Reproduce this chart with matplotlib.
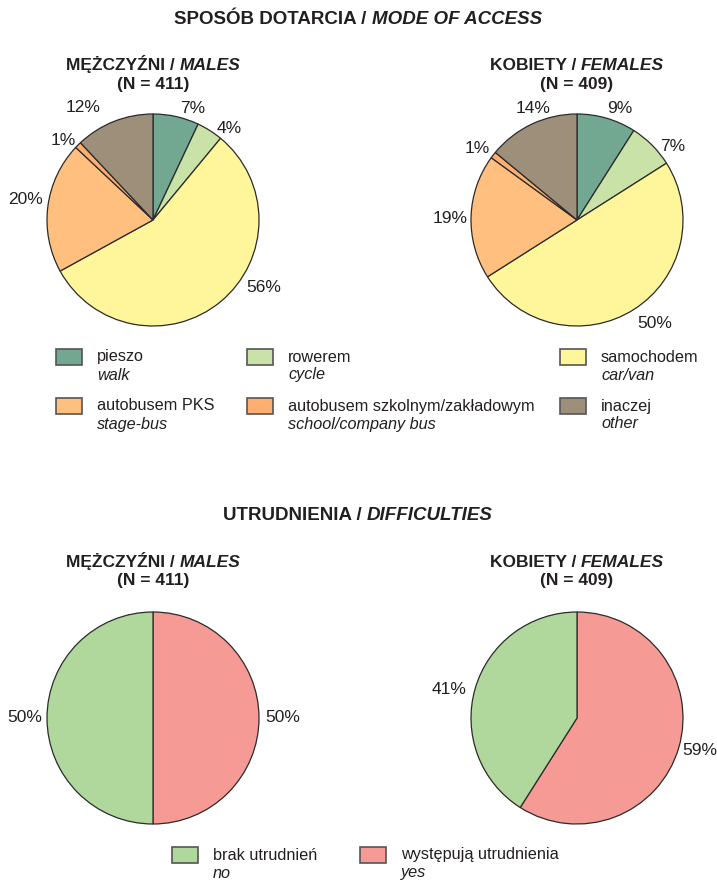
import numpy as np
import matplotlib
matplotlib.use("Agg")
import matplotlib.pyplot as plt
from matplotlib.patches import Rectangle

plt.rcParams['font.family'] = ['Liberation Sans', 'DejaVu Sans']

W, H = 717, 882

# mode of access (%)
access_pl = ["pieszo", "rowerem", "samochodem", "autobusem PKS",
             "autobusem szkolnym/zakładowym", "inaczej"]
access_en = ["walk", "cycle", "car/van", "stage-bus", "school/company bus", "other"]
access_colors = ["#72a892", "#c9e2a7", "#fff59b", "#ffbf7e", "#fdae70", "#9e8f7a"]
males_access = [7, 4, 56, 20, 1, 12]
females_access = [9, 7, 50, 19, 1, 14]

# difficulties (%)
diff_pl = ["brak utrudnień", "występują utrudnienia"]
diff_en = ["no", "yes"]
diff_colors = ["#b0d79c", "#f59a94"]
males_diff = [50, 50]      # no, yes
females_diff = [41, 59]

fig = plt.figure(figsize=(W / 100, H / 100), dpi=100)
ax = fig.add_axes([0, 0, 1, 1])

R = 106
txt = "#231f20"


def Y(y):
    return H - y


def draw_pie(vals, colors, cx, cy, shifts, dists):
    wedges, _ = ax.pie(vals, colors=colors, startangle=90, counterclock=False,
                       center=(cx, Y(cy)), radius=R, frame=True,
                       wedgeprops=dict(edgecolor="#2b2b2b", linewidth=0.9))
    for w, v, s, d in zip(wedges, vals, shifts, dists):
        a = np.deg2rad((w.theta1 + w.theta2) / 2 + s)
        ax.text(cx + d * R * np.cos(a), Y(cy) + d * R * np.sin(a), f"{v}%",
                ha="center", va="center", fontsize=12.5, color=txt)


def two_style(x, y, a, b, size):
    # bold upright part followed by bold italic part, centred together on x
    r = fig.canvas.get_renderer()
    ta = ax.text(0, 0, a, fontsize=size, fontweight="bold")
    tb = ax.text(0, 0, b, fontsize=size, fontweight="bold", fontstyle="italic")
    wa = ta.get_window_extent(r).width
    wb = tb.get_window_extent(r).width
    ta.remove()
    tb.remove()
    x0 = x - (wa + wb) / 2
    base = Y(y) - size * 100 / 72 * 0.729 / 2
    ax.text(x0, base, a, ha="left", va="baseline", fontsize=size,
            fontweight="bold", color=txt)
    ax.text(x0 + wa, base, b, ha="left", va="baseline", fontsize=size,
            fontweight="bold", fontstyle="italic", color=txt)


def header(x, y, pl, en, n):
    two_style(x, y, pl + " / ", en, 12.5)
    ax.text(x, Y(y + 20), f"(N = {n})", ha="center", va="center",
            fontsize=12.5, fontweight="bold", color=txt)


def legend_item(x, y, color, pl, en):
    ax.add_patch(Rectangle((x, Y(y + 8)), 26, 16, facecolor=color,
                           edgecolor="#555555", linewidth=1.2))
    ax.text(x + 41, Y(y), pl, ha="left", va="center", fontsize=11.7, color=txt)
    ax.text(x + 41, Y(y + 18), en, ha="left", va="center", fontsize=11.7,
            fontstyle="italic", color=txt)


ax.set_xlim(0, W)
ax.set_ylim(0, H)
ax.set_aspect("equal")
ax.axis("off")
fig.canvas.draw()

# top section
two_style(358, 17, "SPOSÓB DOTARCIA / ", "MODE OF ACCESS", 13.5)
header(153, 64, "MĘŻCZYŹNI", "MALES", 411)
header(577, 64, "KOBIETY", "FEMALES", 409)

draw_pie(males_access, access_colors, 153, 220,
         [-7, -7.5, 19, -1.7, 3.4, 10.4], [1.12, 1.12, 1.22, 1.22, 1.13, 1.25])
draw_pie(females_access, access_colors, 577, 220,
         [-4.8, -7.4, 4.7, 0.9, 2, -3.8], [1.13, 1.14, 1.22, 1.2, 1.16, 1.13])

leg_x = [56, 247, 560]
leg_y = [357, 406]
for i in range(6):
    legend_item(leg_x[i % 3], leg_y[i // 3], access_colors[i],
                access_pl[i], access_en[i])

# bottom section
two_style(358, 513, "UTRUDNIENIA / ", "DIFFICULTIES", 13.5)
header(153, 561, "MĘŻCZYŹNI", "MALES", 411)
header(577, 561, "KOBIETY", "FEMALES", 409)

# yes first clockwise from the top, then no
draw_pie(males_diff[::-1], diff_colors[::-1], 153, 718, [0, 0], [1.22, 1.21])
draw_pie(females_diff[::-1], diff_colors[::-1], 577, 718, [1.2, 3.9], [1.2, 1.24])

legend_item(172, 855, diff_colors[0], diff_pl[0], diff_en[0])
legend_item(360, 855, diff_colors[1], diff_pl[1], diff_en[1])

ax.set_xlim(0, W)
ax.set_ylim(0, H)

fig.savefig("out.png", dpi=100, facecolor="white")
